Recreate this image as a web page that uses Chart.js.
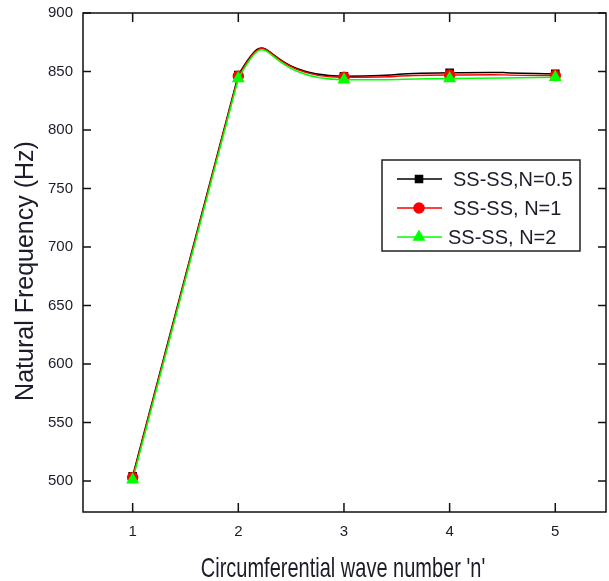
<!DOCTYPE html>
<html lang="en">

<head>
    <meta charset="UTF-8">
    <title>Natural Frequency</title>
    <script src="https://cdn.jsdelivr.net/npm/chart.js"></script>
    <style>
        body {
            margin: 0;
            padding: 0;
            overflow: hidden;
            background-color: white;
        }

        #chart-container {
            width: 609px;
            height: 581px;
        }

        canvas {
            display: block;
        }
    </style>
</head>

<body>
    <div id="chart-container">
        <canvas id="chart"></canvas>
    </div>

    <script>
        // data
        const waveNumbers = [1, 2, 3, 4, 5];
        const freqN05 = [504, 847, 846, 849, 848];
        const freqN1 = [503, 846, 845, 847, 846.5];
        const freqN2 = [501, 844, 843, 844, 845];
        const seriesLabels = ["SS-SS,N=0.5", "SS-SS, N=1", "SS-SS, N=2"];
        const yTickValues = [500, 550, 600, 650, 700, 750, 800, 850, 900];

        const fontName = "'Liberation Sans', Arial, sans-serif";
        const textColor = "#1c1c2a";

        function toPoints(values) {
            return waveNumbers.map((n, i) => ({ x: n, y: values[i] }));
        }

        // frame with inward ticks on all four sides, plus the axis titles
        const framePlugin = {
            id: "frame",
            afterDatasetsDraw(chart) {
                const { ctx, chartArea: a, scales: { x, y } } = chart;
                ctx.save();
                ctx.strokeStyle = "#111";
                ctx.lineWidth = 1.5;
                ctx.strokeRect(a.left, a.top, a.right - a.left, a.bottom - a.top);
                ctx.beginPath();
                for (const v of waveNumbers) {
                    const px = x.getPixelForValue(v);
                    ctx.moveTo(px, a.bottom);
                    ctx.lineTo(px, a.bottom - 9);
                    ctx.moveTo(px, a.top);
                    ctx.lineTo(px, a.top + 9);
                }
                for (const v of yTickValues) {
                    const py = y.getPixelForValue(v);
                    ctx.moveTo(a.left, py);
                    ctx.lineTo(a.left + 8, py);
                    ctx.moveTo(a.right, py);
                    ctx.lineTo(a.right - 8, py);
                }
                ctx.stroke();

                ctx.fillStyle = textColor;
                ctx.textAlign = "center";
                ctx.textBaseline = "alphabetic";
                // x title, the reference letters are drawn tall and narrow
                ctx.save();
                ctx.translate(343, 577);
                ctx.scale(1, 1.35);
                ctx.font = "20px " + fontName;
                ctx.fillText("Circumferential wave number 'n'", 0, 0);
                ctx.restore();
                // y title
                ctx.save();
                ctx.translate(33, 271);
                ctx.rotate(-Math.PI / 2);
                ctx.font = "25px " + fontName;
                ctx.fillText("Natural Frequency (Hz)", 0, 0);
                ctx.restore();
                ctx.restore();
            }
        };

        // boxed legend inside the plot, in the order of seriesLabels
        const boxLegendPlugin = {
            id: "boxLegend",
            afterDraw(chart) {
                const ctx = chart.ctx;
                const box = { x: 382, y: 160, w: 198, h: 91 };
                ctx.save();
                ctx.fillStyle = "white";
                ctx.fillRect(box.x, box.y, box.w, box.h);
                ctx.strokeStyle = "#222";
                ctx.lineWidth = 1.5;
                ctx.strokeRect(box.x, box.y, box.w, box.h);
                ctx.textBaseline = "alphabetic";
                seriesLabels.forEach((label, i) => {
                    const ds = chart.data.datasets.find(d => d.label === label);
                    const cy = box.y + 19 + i * 29;
                    ctx.strokeStyle = ds.borderColor;
                    ctx.lineWidth = 1.5;
                    ctx.beginPath();
                    ctx.moveTo(397, cy);
                    ctx.lineTo(442, cy);
                    ctx.stroke();
                    ctx.fillStyle = ds.pointBackgroundColor;
                    Chart.helpers.drawPoint(ctx, {
                        pointStyle: ds.pointStyle,
                        radius: ds.pointRadius,
                        rotation: 0,
                        borderWidth: 1
                    }, 419, cy);
                    ctx.fillStyle = textColor;
                    ctx.save();
                    ctx.translate(i === 2 ? 448 : 453, cy + 7);
                    ctx.scale(1, 1.05);
                    ctx.font = "20px " + fontName;
                    ctx.fillText(label, 0, 0);
                    ctx.restore();
                });
                ctx.restore();
            }
        };

        // smooth curve; its first segment is hidden and drawn straight by a second dataset
        function makeCurve(label, values, color, style) {
            return {
                label: label,
                data: toPoints(values),
                borderColor: color,
                backgroundColor: color,
                pointBackgroundColor: color,
                pointBorderColor: color,
                pointStyle: style,
                pointRadius: style === "triangle" ? 6 : 5,
                borderWidth: 1.5,
                tension: 0.85,
                segment: {
                    borderColor: c => c.p0DataIndex === 0 ? "rgba(0,0,0,0)" : undefined
                },
                clip: false
            };
        }

        function makeRise(values, color) {
            return {
                data: toPoints(values).slice(0, 2),
                borderColor: color,
                borderWidth: 1.5,
                pointRadius: 0,
                tension: 0,
                clip: false
            };
        }

        const ctx = document.getElementById("chart").getContext("2d");
        new Chart(ctx, {
            type: "line",
            data: {
                datasets: [
                    makeCurve(seriesLabels[2], freqN2, "#00ff00", "triangle"),
                    makeCurve(seriesLabels[1], freqN1, "#ff0000", "circle"),
                    makeCurve(seriesLabels[0], freqN05, "#000000", "rect"),
                    makeRise(freqN2, "#00ff00"),
                    makeRise(freqN1, "#ff0000"),
                    makeRise(freqN05, "#000000"),
                ],
            },
            options: {
                responsive: true,
                maintainAspectRatio: false,
                animation: false,
                layout: {
                    autoPadding: false,
                    padding: { top: 13, right: 3, left: 0, bottom: 0 }
                },
                plugins: {
                    legend: { display: false },
                    tooltip: { enabled: false }
                },
                scales: {
                    x: {
                        type: "linear",
                        min: 0.53,
                        max: 5.48,
                        afterBuildTicks: (scale) => {
                            scale.ticks = waveNumbers.map(v => ({ value: v }));
                        },
                        afterFit: (scale) => {
                            scale.height = 69;
                        },
                        grid: { display: false, drawTicks: false },
                        border: { display: false },
                        ticks: {
                            padding: 11,
                            color: textColor,
                            font: { family: fontName, size: 15 }
                        }
                    },
                    y: {
                        min: 473.5,
                        max: 900,
                        afterBuildTicks: (scale) => {
                            scale.ticks = yTickValues.map(v => ({ value: v }));
                        },
                        afterFit: (scale) => {
                            scale.width = 83;
                            scale.paddingTop = 0;
                            scale.paddingBottom = 0;
                        },
                        grid: { display: false, drawTicks: false },
                        border: { display: false },
                        ticks: {
                            padding: 10,
                            color: textColor,
                            font: { family: fontName, size: 15 }
                        }
                    }
                }
            },
            plugins: [framePlugin, boxLegendPlugin]
        });
    </script>
</body>

</html>
